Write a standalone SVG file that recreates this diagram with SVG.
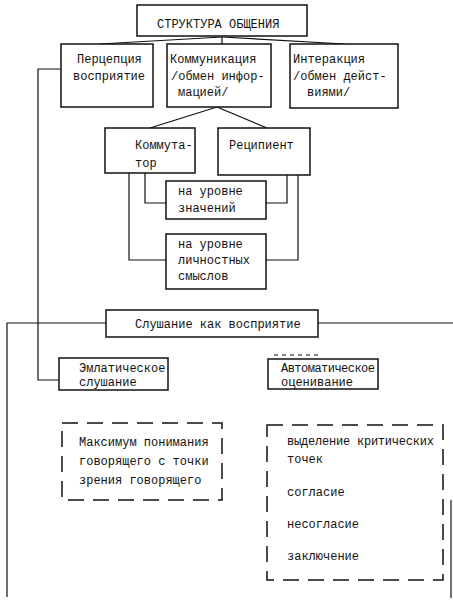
<svg xmlns="http://www.w3.org/2000/svg" width="453" height="600" viewBox="0 0 453 600">
<style>
.b{fill:#fff;stroke:#111;stroke-width:1.5}
.d{fill:none;stroke:#111;stroke-width:1.5;stroke-dasharray:16 9}
.l{fill:none;stroke:#111;stroke-width:1.2}
text{font-family:"Liberation Mono","DejaVu Sans Mono",monospace;font-size:12px;fill:#111}
</style>
<rect width="453" height="600" fill="#fff"/>
<g id="connectors">
<polyline class="l" points="222,37 100,44"/>
<polyline class="l" points="222,37 345,44"/>
<polyline class="l" points="222,37 222,44"/>
<polyline class="l" points="61,69 38,69 38,380 59,380"/>
<polyline class="l" points="217,107 150,128"/>
<polyline class="l" points="217,107 267,128"/>
<polyline class="l" points="145,173 145,203 166,203"/>
<polyline class="l" points="287,175 287,203 266,203"/>
<polyline class="l" points="129,173 129,260 166,260"/>
<polyline class="l" points="298,175 298,260 266,260"/>
<polyline class="l" points="106,323 7,323 7,597"/>
<polyline class="l" points="318,323 453,323"/>
<polyline class="l" points="451,500 451,598"/>
<polyline class="l" points="274,355 320,355" stroke-dasharray="4 4" stroke-width="0.8"/>
</g>
<g id="n-structure"><rect class="b" x="137" y="5" width="170" height="31"/><text x="157" y="28">СТРУКТУРА ОБЩЕНИЯ</text></g>
<g id="n-perception"><rect class="b" x="61" y="44" width="92" height="63"/><text x="77" y="63">Перцепция</text><text x="73" y="80">восприятие</text></g>
<g id="n-communication"><rect class="b" x="167" y="44" width="104" height="63"/><text x="170" y="63">Коммуникация</text><text x="171" y="80">/обмен инфор-</text><text x="178" y="96">мацией/</text></g>
<g id="n-interaction"><rect class="b" x="290" y="44" width="108" height="64"/><text x="293" y="63">Интеракция</text><text x="293" y="80">/обмен дейст-</text><text x="307" y="96">виями/</text></g>
<g id="n-communicator"><rect class="b" x="105" y="128" width="90" height="45"/><text x="135" y="149">Коммута-</text><text x="135" y="167">тор</text></g>
<g id="n-recipient"><rect class="b" x="218" y="128" width="92" height="47"/><text x="229" y="149">Реципиент</text></g>
<g id="n-meanings"><rect class="b" x="166" y="181" width="100" height="38"/><text x="178" y="195">на уровне</text><text x="178" y="212">значений</text></g>
<g id="n-personal"><rect class="b" x="166" y="234" width="100" height="55"/><text x="178" y="248">на уровне</text><text x="178" y="264">личностных</text><text x="178" y="280">смыслов</text></g>
<g id="n-listening"><rect class="b" x="106" y="310" width="212" height="27"/><text x="135" y="328">Слушание как восприятие</text></g>
<g id="n-empathic"><rect class="b" x="59" y="358" width="109" height="32"/><text x="79" y="372">Эмлатическое</text><text x="79" y="386">слушание</text></g>
<g id="n-automatic"><rect class="b" x="268" y="359" width="110" height="30"/><text x="281" y="372" textLength="94">Автоматическое</text><text x="281" y="386">оценивание</text></g>
<g id="n-maximum"><rect class="d" x="62" y="423" width="160" height="77"/><text x="79" y="446">Максимум понимания</text><text x="79" y="465">говорящего с точки</text><text x="79" y="484">зрения говорящего</text></g>
<g id="n-evaluation"><rect class="d" x="267" y="425" width="176" height="155"/><text x="287" y="445" textLength="147">выделение критических</text><text x="287" y="463">точек</text><text x="287" y="496">согласие</text><text x="287" y="528">несогласие</text><text x="287" y="560">заключение</text></g>
</svg>
